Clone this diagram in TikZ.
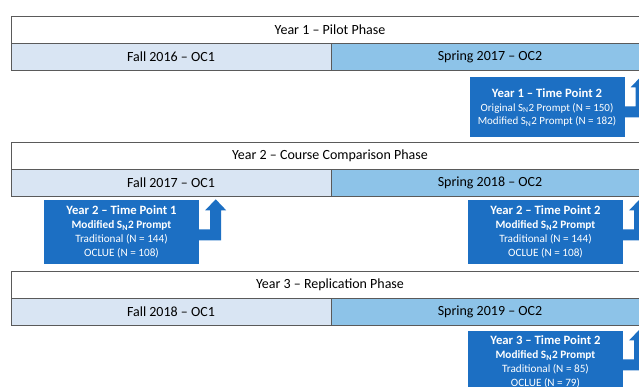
\documentclass[tikz,border=0pt]{standalone}
\usepackage{fontspec}
\setmainfont{Carlito}
\usetikzlibrary{calc}
\definecolor{rowline}{HTML}{5A5A5A}
\definecolor{fallblue}{HTML}{D9E5F3}
\definecolor{springblue}{HTML}{8DC3E8}
\definecolor{tpblue}{HTML}{1C6FC3}
\begin{document}
\begin{tikzpicture}[x=1pt,y=-1pt,
  phase/.style={draw=rowline, line width=0.8pt, fill=white, minimum width=638pt,
    minimum height=27pt, inner sep=0pt, font=\fontsize{14}{16}\selectfont},
  fallrow/.style={phase, fill=fallblue, minimum width=320pt},
  springrow/.style={phase, fill=springblue, minimum width=318pt},
  tpbox/.style={fill=tpblue, text=white, minimum width=155pt, minimum height=61pt,
    inner sep=0pt, align=center, font=\fontsize{11.2}{14.2}\selectfont},
  bentarrow/.style={fill=tpblue, draw=none}]
\useasboundingbox (0,0) rectangle (639,387);
\clip (0,0) rectangle (639,387);

% bent-up arrow attached to the right side of a time-point box
\newcommand{\uparrowfrom}[1]{%
  \fill[bentarrow]
    ($(#1.north east)+(0,29)$) -- ($(#1.north east)+(11,29)$) --
    ($(#1.north east)+(11,10)$) -- ($(#1.north east)+(6,10)$) --
    ($(#1.north east)+(16.5,-1)$) -- ($(#1.north east)+(27,10)$) --
    ($(#1.north east)+(22,10)$) -- ($(#1.north east)+(22,40)$) --
    ($(#1.north east)+(0,40)$) -- cycle;}
\newcommand{\tptitle}[1]{{\fontsize{12.7}{14.2}\selectfont\bfseries #1}}
\newcommand{\tpprompt}{{\fontsize{11.3}{14.2}\selectfont\bfseries Modified S\textsubscript{N}2 Prompt}}

% Year 1
\node[phase] (y1) at (330,29.5) {Year 1 -- Pilot Phase};
\node[fallrow] (y1f) at (171,56.5) {Fall 2016 -- OC1};
\node[springrow] (y1s) at (490,56.5) {Spring 2017 -- OC2};

\node[tpbox, minimum height=60pt, font=\fontsize{11}{13.8}\selectfont] (tp12) at (547,107.5) {%
  \tptitle{Year 1 -- Time Point 2}\\
  Original S\textsubscript{N}2 Prompt (N = 150)\\
  Modified S\textsubscript{N}2 Prompt (N = 182)};
\uparrowfrom{tp12}

% Year 2
\node[phase] (y2) at (330,156) {Year 2 -- Course Comparison Phase};
\node[fallrow] (y2f) at (171,182.5) {Fall 2017 -- OC1};
\node[springrow] (y2s) at (490,182.5) {Spring 2018 -- OC2};

\node[tpbox, minimum height=63pt] (tp21) at (121.5,232) {%
  \tptitle{Year 2 -- Time Point 1}\\
  \tpprompt\\
  Traditional (N = 144)\\
  OCLUE (N = 108)};
\uparrowfrom{tp21}

\node[tpbox, minimum height=63pt] (tp22) at (545.5,232) {%
  \tptitle{Year 2 -- Time Point 2}\\
  \tpprompt\\
  Traditional (N = 144)\\
  OCLUE (N = 108)};
\uparrowfrom{tp22}

% Year 3
\node[phase] (y3) at (330,285) {Year 3 -- Replication Phase};
\node[fallrow] (y3f) at (171,312) {Fall 2018 -- OC1};
\node[springrow] (y3s) at (490,312) {Spring 2019 -- OC2};

\node[tpbox, minimum height=63pt] (tp32) at (545.5,362) {%
  \tptitle{Year 3 -- Time Point 2}\\
  \tpprompt\\
  Traditional (N = 85)\\
  OCLUE (N = 79)};
\uparrowfrom{tp32}
\end{tikzpicture}
\end{document}
